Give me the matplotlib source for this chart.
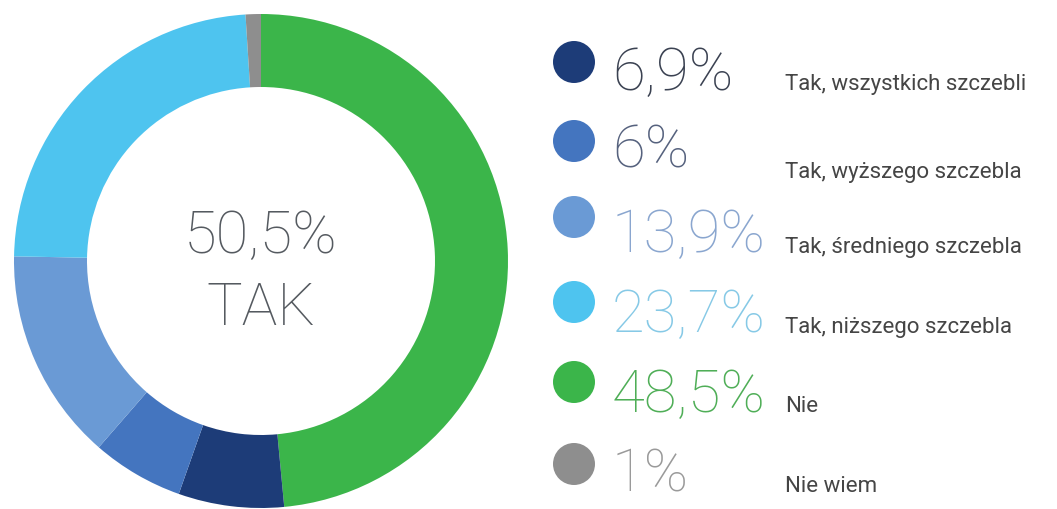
import matplotlib

matplotlib.use("Agg")
import matplotlib.pyplot as plt
from matplotlib.patches import Circle

# legend order (top to bottom)
labels = [
    "Tak, wszystkich szczebli",
    "Tak, wyższego szczebla",
    "Tak, średniego szczebla",
    "Tak, niższego szczebla",
    "Nie",
    "Nie wiem",
]
values = [6.9, 6.0, 13.9, 23.7, 48.5, 1.0]
pct_text = ["6,9%", "6%", "13,9%", "23,7%", "48,5%", "1%"]
slice_colors = ["#1d3c78", "#4475bf", "#6a9ad5", "#4ec4ef", "#3bb54a", "#8e8e8e"]
pct_colors = ["#3b4252", "#56627e", "#8aa6cf", "#86c9e6", "#4fae57", "#9a9a9a"]
center_lines = ["50,5%", "TAK"]

# clockwise from 12 o'clock
pie_order = [4, 0, 1, 2, 3, 5]

W, H = 1057, 510
fig = plt.figure(figsize=(W / 100, H / 100), dpi=100)
ax = fig.add_axes([0, 0, 1, 1])

font = "Roboto"

ax.pie(
    [values[i] for i in pie_order],
    colors=[slice_colors[i] for i in pie_order],
    startangle=90,
    counterclock=False,
    center=(261, 248),
    radius=247,
    wedgeprops=dict(width=73, linewidth=0),
    frame=True,
)
ax.set_xlim(0, W)
ax.set_ylim(0, H)
ax.set_aspect("equal")
ax.axis("off")

ax.text(261, 257, center_lines[0], ha="center", va="baseline", fontsize=43,
        family=font, fontweight="light", color="#555a60")
ax.text(261, 185, center_lines[1], ha="center", va="baseline", fontsize=43,
        family=font, fontweight="light", color="#555a60")

row_y = [447, 368, 292, 207, 127, 45]  # centres of legend dots (from bottom)
base_pct = [420, 343, 258, 178, 98, 18]
base_lab = [420, 332, 257, 177, 98, 18]
for i in range(len(labels)):
    ax.add_patch(Circle((574, row_y[i]), 21, color=slice_colors[i], lw=0))
    ax.text(612, base_pct[i], pct_text[i], ha="left", va="baseline", fontsize=43,
            family=font, fontweight="light", color=pct_colors[i])
    ax.text(785, base_lab[i], labels[i], ha="left", va="baseline", fontsize=16,
            family=font, color="#454545")

fig.savefig("out.png", dpi=100)
